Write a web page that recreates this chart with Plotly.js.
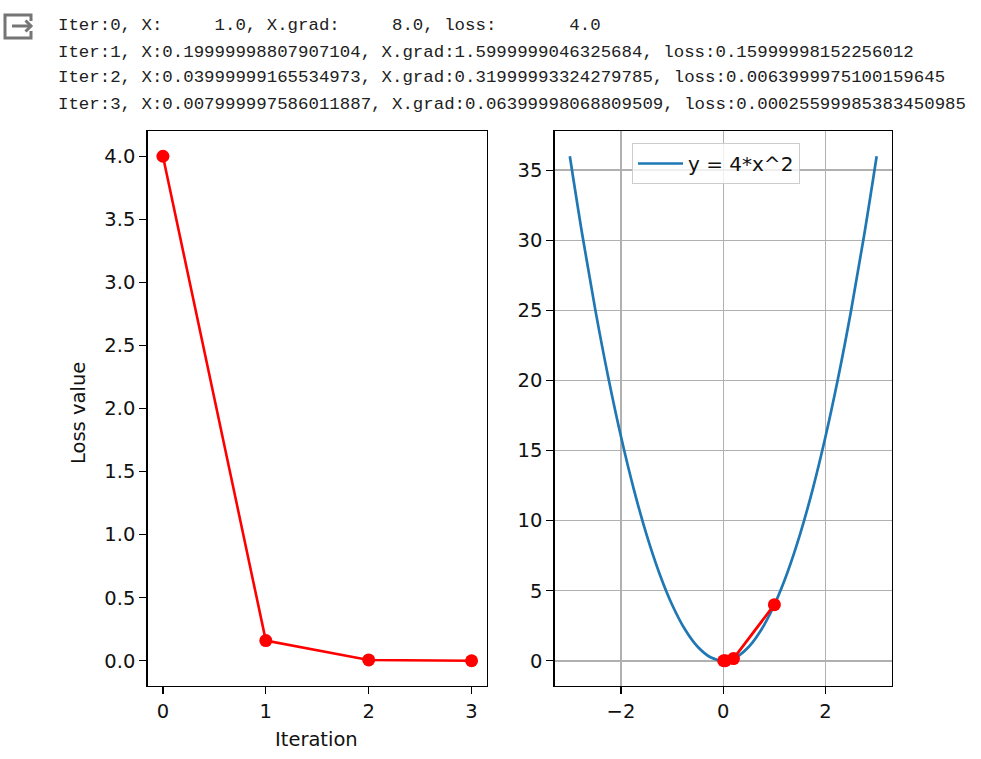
<!DOCTYPE html>
<html>
<head>
<meta charset="utf-8">
<script src="https://cdn.plot.ly/plotly-3.0.1.min.js"></script>
<style>
  html, body { margin: 0; padding: 0; background: #fff; }
  #chart { width: 981px; height: 759px; }
</style>
</head>
<body>
<div id="chart"></div>
<script>
// printed training log (cell output above the figure)
const LOG_LINES = [
    'Iter:0, X:     1.0, X.grad:     8.0, loss:       4.0',
    'Iter:1, X:0.19999998807907104, X.grad:1.5999999046325684, loss:0.15999998152256012',
    'Iter:2, X:0.03999999165534973, X.grad:0.31999993324279785, loss:0.0063999975100159645',
    'Iter:3, X:0.007999997586011887, X.grad:0.06399998068809509, loss:0.00025599985383450985',
];

// gradient descent steps
const iterations = [0, 1, 2, 3];
const xSteps = [1.0, 0.19999998807907104, 0.03999999165534973, 0.007999997586011887];
const lossSteps = [4.0, 0.15999998152256012, 0.0063999975100159645, 0.00025599985383450985];

// the y = 4*x^2 curve, sampled
const curveX = [-3, -2.75, -2.5, -2.25, -2, -1.75, -1.5, -1.25, -1, -0.75, -0.5, -0.25, 0,
                0.25, 0.5, 0.75, 1, 1.25, 1.5, 1.75, 2, 2.25, 2.5, 2.75, 3];
const curveY = [36, 30.25, 25, 20.25, 16, 12.25, 9, 6.25, 4, 2.25, 1, 0.25, 0,
                0.25, 1, 2.25, 4, 6.25, 9, 12.25, 16, 20.25, 25, 30.25, 36];

const leftTicks = [0, 1, 2, 3];
const rightXTicks = [-2, 0, 2];

const W = 981, H = 759;
const px = x => x / W;
const py = y => 1 - y / H;

const FONT = { family: 'DejaVu Sans, sans-serif', size: 19.5, color: '#111' };
const RED = '#ff0000';
const BLUE = '#1f77b4';

const AXIS = {
    showline: true, linecolor: '#000', linewidth: 1.3, mirror: true,
    ticks: 'outside', ticklen: 7, tickwidth: 1.3, tickcolor: '#000',
    zeroline: false, showgrid: false, tickfont: FONT,
};

const traces = [
    {
        x: iterations, y: lossSteps, xaxis: 'x', yaxis: 'y',
        mode: 'lines+markers', showlegend: false,
        line: { color: RED, width: 2.6 },
        marker: { color: RED, size: 13 },
    },
    {
        x: curveX, y: curveY, xaxis: 'x2', yaxis: 'y2',
        mode: 'lines', name: 'y = 4*x^2',
        line: { color: BLUE, width: 2.7, shape: 'spline' },
    },
    {
        x: xSteps, y: lossSteps, xaxis: 'x2', yaxis: 'y2',
        mode: 'lines+markers', showlegend: false,
        line: { color: RED, width: 2.8 },
        marker: { color: RED, size: 13 },
    },
];

const annotations = LOG_LINES.map((t, i) => ({
    text: t.replace(/ /g, '\u00a0'),
    xref: 'paper', yref: 'paper',
    x: px(56), y: py(26 + i * 26),
    xanchor: 'left', yanchor: 'middle', showarrow: false,
    font: { family: 'Liberation Mono, monospace', size: 17.4, color: '#212121' },
}));
annotations.push(
    { text: 'Iteration', xref: 'paper', yref: 'paper', x: px(316), y: py(739),
      xanchor: 'center', yanchor: 'middle', showarrow: false, font: FONT },
    { text: 'Loss value', xref: 'paper', yref: 'paper', x: px(78), y: py(413),
      xanchor: 'center', yanchor: 'middle', showarrow: false, textangle: -90, font: FONT },
);

// output icon at the top left
const pathOf = pts => pts.map((p, i) => (i ? 'L' : 'M') + px(p[0]) + ',' + py(p[1])).join(' ');
const ICON = { color: '#757575', width: 3 };
const shapes = [
    { type: 'path', xref: 'paper', yref: 'paper', line: ICON,
      path: pathOf([[31, 21], [31, 15], [5, 15], [5, 38], [31, 38], [31, 31]]) },
    { type: 'path', xref: 'paper', yref: 'paper', line: ICON,
      path: pathOf([[12, 26], [31, 26]]) },
    { type: 'path', xref: 'paper', yref: 'paper', line: ICON,
      path: pathOf([[25.5, 20.5], [31, 26], [25.5, 31.5]]) },
];

const layout = {
    width: W, height: H,
    margin: { l: 0, r: 0, t: 0, b: 0 },
    paper_bgcolor: '#fff', plot_bgcolor: '#fff',
    font: FONT,
    xaxis: { ...AXIS, domain: [px(147.5), px(487)], range: [-0.15, 3.15],
             tickvals: leftTicks, anchor: 'y' },
    yaxis: { ...AXIS, domain: [py(686), py(131)], range: [-0.2, 4.2],
             dtick: 0.5, tick0: 0, tickformat: '.1f', anchor: 'x' },
    xaxis2: { ...AXIS, domain: [px(554.5), px(892)], range: [-3.3, 3.3],
              tickvals: rightXTicks, anchor: 'y2',
              showgrid: true, gridcolor: '#b0b0b0', gridwidth: 1.5 },
    yaxis2: { ...AXIS, domain: [py(686), py(131)], range: [-1.8, 37.8],
              dtick: 5, tick0: 0, anchor: 'x2',
              showgrid: true, gridcolor: '#b0b0b0', gridwidth: 1.5 },
    showlegend: true,
    legend: {
        x: px(632), y: py(143), xanchor: 'left', yanchor: 'top',
        bgcolor: 'rgba(255,255,255,0.8)', bordercolor: '#cccccc', borderwidth: 1,
        font: { ...FONT, size: 20 }, itemwidth: 45,
    },
    annotations: annotations,
    shapes: shapes,
};

Plotly.newPlot('chart', traces, layout, { displayModeBar: false, staticPlot: true });
</script>
</body>
</html>
